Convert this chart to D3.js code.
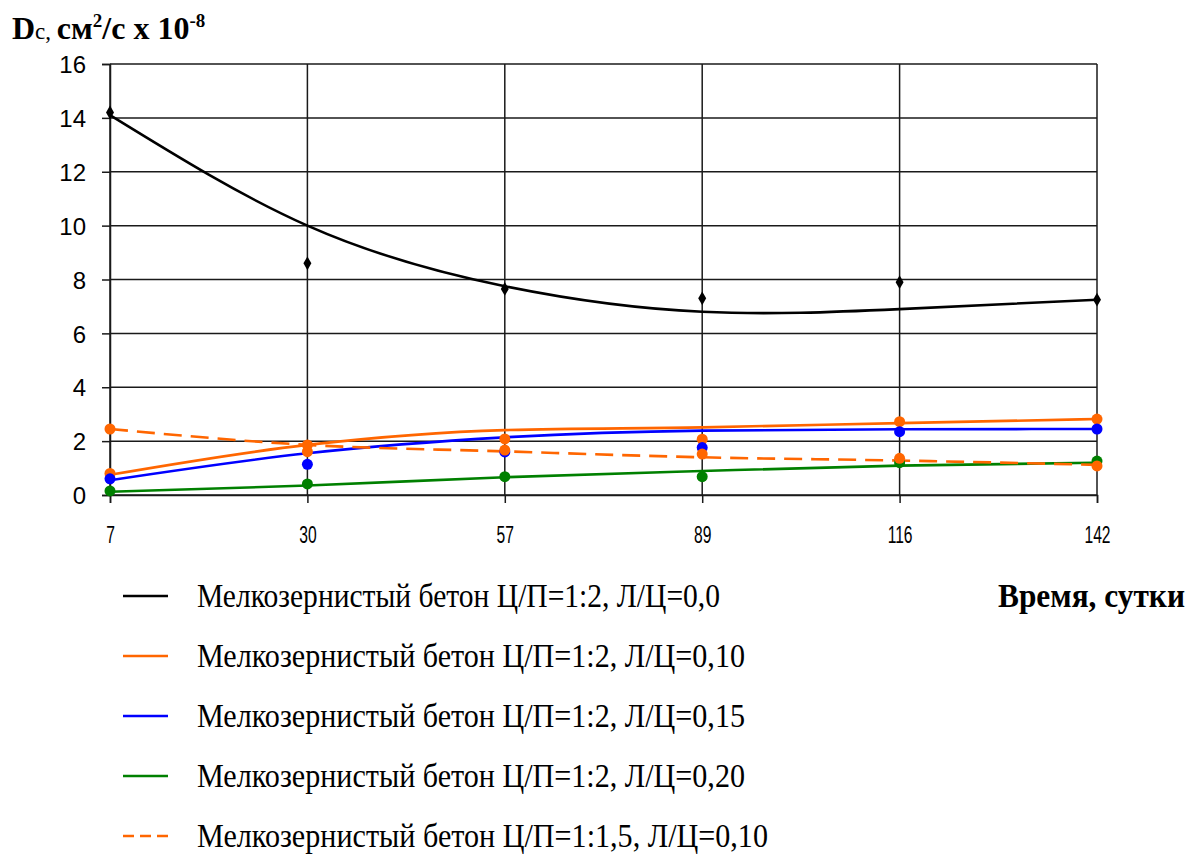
<!DOCTYPE html>
<html>
<head>
<meta charset="utf-8">
<script src="https://cdn.jsdelivr.net/npm/d3@7"></script>
<style>
  html, body { margin: 0; padding: 0; background: #fff; }
  svg { display: block; }
</style>
</head>
<body>
<svg id="chart" width="1200" height="854"></svg>
<script>
// Categories (days) and y tick values
const days = ["7", "30", "57", "89", "116", "142"];
const yTicks = [0, 2, 4, 6, 8, 10, 12, 14, 16];

// Measured diffusion coefficients, cm²/s × 10⁻⁸
const lc00 = [14.2, 8.6, 7.65, 7.3, 7.9, 7.25];
const lc010 = [0.8, 1.61, 2.08, 2.07, 2.72, 2.82];
const lc015 = [0.6, 1.14, 1.6, 1.76, 2.35, 2.45];
const lc020 = [0.15, 0.41, 0.68, 0.68, 1.2, 1.26];
const lc15_010 = [2.45, 1.86, 1.67, 1.52, 1.36, 1.08];

// Smoothed trend values at each day
const trend00 = [14.1, 10.0, 7.75, 6.8, 6.9, 7.25];
const trend010 = [0.75, 1.86, 2.41, 2.51, 2.67, 2.82];
const trend015 = [0.55, 1.55, 2.14, 2.39, 2.44, 2.45];
const trend020 = [0.12, 0.35, 0.66, 0.89, 1.09, 1.2];
const trend15_010 = [2.45, 1.86, 1.62, 1.4, 1.28, 1.12];

const legendLabels = [
  "Мелкозернистый бетон Ц/П=1:2, Л/Ц=0,0",
  "Мелкозернистый бетон Ц/П=1:2, Л/Ц=0,10",
  "Мелкозернистый бетон Ц/П=1:2, Л/Ц=0,15",
  "Мелкозернистый бетон Ц/П=1:2, Л/Ц=0,20",
  "Мелкозернистый бетон Ц/П=1:1,5, Л/Ц=0,10"
];

const series = [
  { values: lc00, trend: trend00, color: "#000000", marker: "diamond", dash: null, curve: d3.curveNatural, legendW: 523 },
  { values: lc010, trend: trend010, color: "#FF6600", marker: "circle", dash: null, curve: d3.curveMonotoneX, legendW: 548 },
  { values: lc015, trend: trend015, color: "#0000FF", marker: "circle", dash: null, curve: d3.curveMonotoneX, legendW: 548 },
  { values: lc020, trend: trend020, color: "#008000", marker: "circle", dash: null, curve: d3.curveMonotoneX, legendW: 548 },
  { values: lc15_010, trend: trend15_010, color: "#FF6600", marker: "circle", dash: "18,9", curve: d3.curveMonotoneX, legendW: 571 }
];
series.forEach((s, i) => s.label = legendLabels[i]);

const svg = d3.select("#chart");
const x = d3.scalePoint().domain(days).range([110, 1097]);
const y = d3.scaleLinear().domain([0, 16]).range([495, 64]);

// Grid
const grid = svg.append("g").attr("stroke", "#1a1a1a").attr("stroke-width", 1.5);
grid.selectAll("line.h").data(yTicks).join("line")
  .attr("x1", 110).attr("x2", 1097)
  .attr("y1", d => y(d)).attr("y2", d => y(d));
grid.selectAll("line.v").data(days).join("line")
  .attr("x1", d => x(d)).attr("x2", d => x(d))
  .attr("y1", y(16)).attr("y2", y(0));

// Y axis
const yAxis = svg.append("g").attr("transform", "translate(110,0)")
  .call(d3.axisLeft(y).tickValues(yTicks).tickSize(8).tickPadding(16).tickFormat(d3.format("d")));
yAxis.select(".domain").attr("stroke", "#1a1a1a").attr("stroke-width", 1.5);
yAxis.selectAll(".tick line").attr("stroke", "#1a1a1a").attr("stroke-width", 1.5);
yAxis.selectAll(".tick text")
  .attr("font-family", "'Liberation Sans', Arial, sans-serif")
  .attr("font-size", 24).attr("fill", "#000").attr("dy", "0.36em");

// X axis
const xAxis = svg.append("g").attr("transform", `translate(0,${y(0)})`)
  .call(d3.axisBottom(x).tickSize(8).tickPadding(0));
xAxis.select(".domain").attr("stroke", "#1a1a1a").attr("stroke-width", 1.5);
xAxis.selectAll(".tick line").attr("stroke", "#1a1a1a").attr("stroke-width", 1.5);
xAxis.selectAll(".tick text").remove();
xAxis.selectAll(".tick").append("text")
  .attr("transform", "translate(0,48) scale(0.68,1)")
  .attr("text-anchor", "middle")
  .attr("font-family", "'Liberation Sans', Arial, sans-serif")
  .attr("font-size", 23).attr("fill", "#000")
  .text(d => d);

// Trend lines and markers
const plot = svg.append("g");
series.forEach(s => {
  const line = d3.line().x((d, i) => x(days[i])).y(d => y(d)).curve(s.curve);
  plot.append("path")
    .attr("d", line(s.trend))
    .attr("fill", "none")
    .attr("stroke", s.color)
    .attr("stroke-width", 2.6)
    .attr("stroke-dasharray", s.dash);
});
series.forEach(s => {
  const g = plot.append("g");
  if (s.marker === "diamond") {
    g.selectAll("path").data(s.values).join("path")
      .attr("d", d3.symbol(d3.symbolDiamond, 55))
      .attr("transform", (d, i) => `translate(${x(days[i])},${y(d)})`)
      .attr("fill", s.color);
  } else {
    g.selectAll("circle").data(s.values).join("circle")
      .attr("cx", (d, i) => x(days[i]))
      .attr("cy", d => y(d))
      .attr("r", 5.5)
      .attr("fill", s.color);
  }
});

// Y axis title
const yTitle = svg.append("text")
  .attr("x", 12).attr("y", 39)
  .attr("font-family", "'Liberation Serif', 'Times New Roman', serif")
  .attr("font-weight", "bold").attr("font-size", 32).attr("fill", "#000");
yTitle.append("tspan").text("D");
yTitle.append("tspan").attr("font-weight", "normal").attr("font-size", 23).text("с, ");
yTitle.append("tspan").text("см");
yTitle.append("tspan").attr("font-size", 19).attr("dy", -12).text("2");
yTitle.append("tspan").attr("dy", 12).text("/с х 10");
yTitle.append("tspan").attr("font-size", 19).attr("dy", -12).text("-8");

// X axis title
svg.append("text")
  .attr("x", 998).attr("y", 607)
  .attr("font-family", "'Liberation Serif', 'Times New Roman', serif")
  .attr("font-weight", "bold").attr("font-size", 34).attr("fill", "#000")
  .attr("textLength", 187).attr("lengthAdjust", "spacingAndGlyphs")
  .text("Время, сутки");

// Legend
const legend = svg.append("g");
const rows = legend.selectAll("g").data(series).join("g")
  .attr("transform", (d, i) => `translate(0,${596 + i * 60})`);
rows.append("line")
  .attr("x1", 123).attr("x2", 168).attr("y1", 0).attr("y2", 0)
  .attr("stroke", d => d.color).attr("stroke-width", 2.6)
  .attr("stroke-dasharray", d => d.dash ? "11,6" : null);
rows.append("text")
  .attr("x", 197).attr("y", 11)
  .attr("font-family", "'Liberation Serif', 'Times New Roman', serif")
  .attr("font-size", 34).attr("fill", "#000")
  .attr("textLength", d => d.legendW).attr("lengthAdjust", "spacingAndGlyphs")
  .text(d => d.label);
</script>
</body>
</html>
